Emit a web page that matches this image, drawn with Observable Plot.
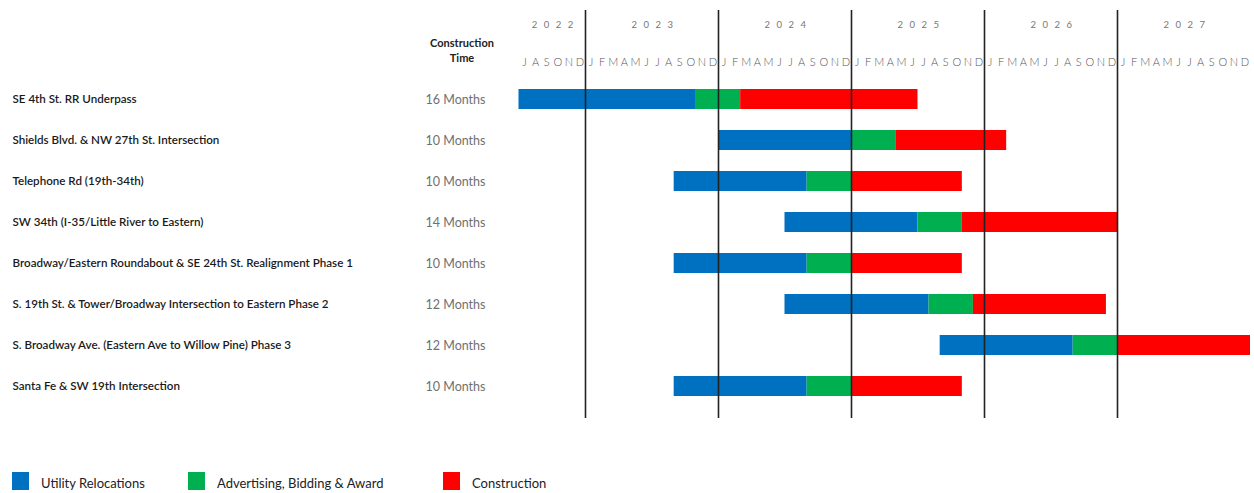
<!DOCTYPE html>
<html>
<head>
<meta charset="utf-8">
<script src="https://cdn.jsdelivr.net/npm/d3@7"></script>
<script src="https://cdn.jsdelivr.net/npm/@observablehq/plot@0.6"></script>
<style>
  html, body { margin: 0; padding: 0; background: #fff; }
  #wrap { width: 1254px; height: 493px; position: relative; font-family: Lato, "Open Sans", sans-serif; }
  #legend { position: absolute; top: 466px; left: 0; width: 1254px; height: 27px; }
  .item { position: absolute; top: 6px; display: flex; align-items: center; font-size: 13px; color: #222; }
  .item span { position: relative; top: 2px; }
  .sw { width: 17px; height: 18px; margin-right: 12px; }
</style>
</head>
<body>
<div id="wrap">
  <div id="chart"></div>
  <div id="legend"></div>
</div>
<script>
const projects = [
  "SE 4th St. RR Underpass",
  "Shields Blvd. & NW 27th St. Intersection",
  "Telephone Rd (19th-34th)",
  "SW 34th (I-35/Little River to Eastern)",
  "Broadway/Eastern Roundabout & SE 24th St. Realignment Phase 1",
  "S. 19th St. & Tower/Broadway Intersection to Eastern Phase 2",
  "S. Broadway Ave. (Eastern Ave to Willow Pine) Phase 3",
  "Santa Fe & SW 19th Intersection"
];
const constructionTime = ["16 Months","10 Months","10 Months","14 Months","10 Months","12 Months","12 Months","10 Months"];
const utilityStart      = ["2022-07","2024-01","2023-09","2024-07","2023-09","2024-07","2025-09","2023-09"];
const biddingStart      = ["2023-11","2025-01","2024-09","2025-07","2024-09","2025-08","2026-09","2024-09"];
const constructionStart = ["2024-03","2025-05","2025-01","2025-11","2025-01","2025-12","2027-01","2025-01"];
const constructionEnd   = ["2025-07","2026-03","2025-11","2027-01","2025-11","2026-12","2028-01","2025-11"];
const phases = ["Utility Relocations", "Advertising, Bidding & Award", "Construction"];
const phaseColors = ["#0070C0", "#00B050", "#FF0000"];
const years = ["2022","2023","2024","2025","2026","2027"];
const monthLetters = ["J","F","M","A","M","J","J","A","S","O","N","D"];
const axisStart = "2022-07";
const axisEnd = "2028-01";

// month index relative to axis start
function mi(s) {
  const [y, m] = s.split("-").map(Number);
  const [y0, m0] = axisStart.split("-").map(Number);
  return (y - y0) * 12 + (m - m0);
}

const segments = [];
projects.forEach((p, i) => {
  const bounds = [utilityStart[i], biddingStart[i], constructionStart[i], constructionEnd[i]];
  phases.forEach((ph, k) => {
    segments.push({project: p, phase: ph, x1: mi(bounds[k]), x2: mi(bounds[k + 1])});
  });
});

const nMonths = mi(axisEnd);
const months = d3.range(nMonths).map(k => {
  const [y0, m0] = axisStart.split("-").map(Number);
  const mm = (m0 - 1 + k) % 12;
  return {x: k + 0.5, label: monthLetters[mm]};
});
const yearInfo = years.map(y => {
  const a = Math.max(0, mi(y + "-01"));
  const b = Math.min(nMonths, mi((+y + 1) + "-01"));
  return {year: y, x: (a + b) / 2, label: y};
});
const yearLines = years.slice(1).map(y => mi(y + "-01"));
const rows = projects.map((p, i) => ({project: p, time: constructionTime[i]}));

const W = 1254, H = 430, ML = 518.5;
const plot = Plot.plot({
  width: W,
  height: H,
  marginLeft: ML,
  marginRight: 4,
  marginTop: 76,
  marginBottom: 21.5,
  style: {fontFamily: "Lato, 'Open Sans', sans-serif", background: "#fff"},
  x: {domain: [0, nMonths], axis: null},
  y: {domain: projects, axis: null, paddingInner: 0.52, paddingOuter: 0.26, align: 0.5},
  color: {domain: phases, range: phaseColors},
  marks: [
    Plot.barX(segments, {x1: "x1", x2: "x2", y: "project", fill: "phase"}),
    Plot.ruleX(yearLines, {stroke: "#222", strokeWidth: 1.6, insetTop: -66, insetBottom: -9.5}),
    Plot.text(rows, {y: "project", text: "project", frameAnchor: "left", textAnchor: "start", dx: 12 - ML, fontSize: 11.6, fontWeight: 600, fill: "#1a1a1a"}),
    Plot.text(rows, {y: "project", text: "time", frameAnchor: "left", textAnchor: "middle", dx: 455 - ML, fontSize: 12.5, fill: "#707070"}),
    Plot.text(months, {x: "x", text: "label", frameAnchor: "top", dy: -18, fontSize: 11, fontWeight: 300, fill: "#555"}),
    Plot.text(yearInfo, {x: "x", text: "label", frameAnchor: "top", dx: 3.5, dy: -55, fontSize: 9.5, fill: "#777", fontWeight: 400})
  ]
});
document.getElementById("chart").appendChild(plot);

const svg = d3.select(plot);
// letter-spacing for year labels
svg.selectAll("text").filter(function() { return years.includes(this.textContent); })
  .attr("letter-spacing", "6.5px");
const hdr = svg.append("text").attr("text-anchor", "middle").attr("font-size", 11).attr("font-weight", 700).attr("fill", "#222");
hdr.append("tspan").attr("x", 462).attr("y", 47).text("Construction");
hdr.append("tspan").attr("x", 462).attr("y", 62).text("Time");

const legend = d3.select("#legend");
const legendX = [12, 188, 443];
phases.forEach((ph, k) => {
  const it = legend.append("div").attr("class", "item").style("left", legendX[k] + "px");
  it.append("div").attr("class", "sw").style("background", phaseColors[k]);
  it.append("span").text(ph);
});
</script>
</body>
</html>
